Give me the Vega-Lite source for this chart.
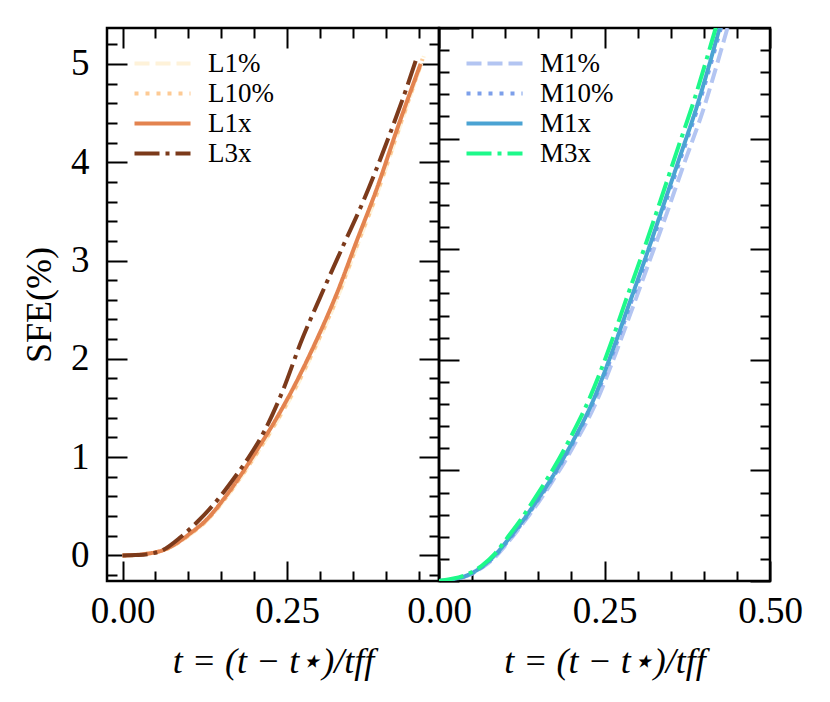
{
  "$schema": "https://vega.github.io/schema/vega-lite/v6.json",
  "background": "white",
  "padding": {"left": 20, "top": 23, "right": 5, "bottom": 5},
  "spacing": 0,
  "bounds": "flush",
  "resolve": {"scale": {"color": "independent", "strokeDash": "independent"}, "legend": {"color": "independent", "strokeDash": "independent"}},
  "config": {
    "view": {"stroke": "black", "strokeWidth": 2.5},
    "axis": {"labelFont": "Liberation Serif", "labelFontSize": 37, "titleFont": "Liberation Serif", "titleFontSize": 36, "titleFontWeight": "normal", "domain": false, "grid": false, "tickColor": "black", "tickWidth": 2, "labelColor": "black", "titleColor": "black", "labelOverlap": false, "labelFlush": false, "labelBound": false},
    "legend": {"symbolType": "M-2.8,0H2.8", "symbolSize": 400, "symbolStrokeWidth": 4, "labelFont": "Liberation Serif", "labelFontSize": 27, "labelOffset": 32, "rowPadding": 2, "padding": 0, "labelColor": "black", "labelLimit": 300}
  },
  "datasets": {
    "L": [
      {"run": "L1%", "t": 0, "sfe": 0}, {"run": "L1%", "t": 0.02, "sfe": 0.005}, {"run": "L1%", "t": 0.04, "sfe": 0.02}, {"run": "L1%", "t": 0.06, "sfe": 0.047}, {"run": "L1%", "t": 0.08, "sfe": 0.108}, {"run": "L1%", "t": 0.1, "sfe": 0.198}, {"run": "L1%", "t": 0.13, "sfe": 0.365}, {"run": "L1%", "t": 0.155, "sfe": 0.565}, {"run": "L1%", "t": 0.18, "sfe": 0.795}, {"run": "L1%", "t": 0.206, "sfe": 1.055}, {"run": "L1%", "t": 0.231, "sfe": 1.32}, {"run": "L1%", "t": 0.26, "sfe": 1.66}, {"run": "L1%", "t": 0.29, "sfe": 2.07}, {"run": "L1%", "t": 0.326, "sfe": 2.61}, {"run": "L1%", "t": 0.356, "sfe": 3.14}, {"run": "L1%", "t": 0.387, "sfe": 3.68}, {"run": "L1%", "t": 0.417, "sfe": 4.27}, {"run": "L1%", "t": 0.458, "sfe": 5.08},
      {"run": "L10%", "t": 0, "sfe": 0}, {"run": "L10%", "t": 0.02, "sfe": 0.005}, {"run": "L10%", "t": 0.04, "sfe": 0.02}, {"run": "L10%", "t": 0.06, "sfe": 0.048}, {"run": "L10%", "t": 0.08, "sfe": 0.11}, {"run": "L10%", "t": 0.1, "sfe": 0.2}, {"run": "L10%", "t": 0.13, "sfe": 0.37}, {"run": "L10%", "t": 0.155, "sfe": 0.57}, {"run": "L10%", "t": 0.18, "sfe": 0.8}, {"run": "L10%", "t": 0.206, "sfe": 1.06}, {"run": "L10%", "t": 0.231, "sfe": 1.33}, {"run": "L10%", "t": 0.26, "sfe": 1.67}, {"run": "L10%", "t": 0.29, "sfe": 2.08}, {"run": "L10%", "t": 0.326, "sfe": 2.62}, {"run": "L10%", "t": 0.356, "sfe": 3.15}, {"run": "L10%", "t": 0.387, "sfe": 3.69}, {"run": "L10%", "t": 0.417, "sfe": 4.28}, {"run": "L10%", "t": 0.456, "sfe": 5.05},
      {"run": "L1x", "t": 0, "sfe": 0}, {"run": "L1x", "t": 0.02, "sfe": 0.005}, {"run": "L1x", "t": 0.04, "sfe": 0.02}, {"run": "L1x", "t": 0.06, "sfe": 0.05}, {"run": "L1x", "t": 0.08, "sfe": 0.115}, {"run": "L1x", "t": 0.1, "sfe": 0.21}, {"run": "L1x", "t": 0.13, "sfe": 0.38}, {"run": "L1x", "t": 0.155, "sfe": 0.585}, {"run": "L1x", "t": 0.18, "sfe": 0.82}, {"run": "L1x", "t": 0.206, "sfe": 1.09}, {"run": "L1x", "t": 0.231, "sfe": 1.36}, {"run": "L1x", "t": 0.26, "sfe": 1.71}, {"run": "L1x", "t": 0.29, "sfe": 2.12}, {"run": "L1x", "t": 0.326, "sfe": 2.67}, {"run": "L1x", "t": 0.356, "sfe": 3.2}, {"run": "L1x", "t": 0.387, "sfe": 3.74}, {"run": "L1x", "t": 0.417, "sfe": 4.33}, {"run": "L1x", "t": 0.453, "sfe": 5.0},
      {"run": "L3x", "t": 0, "sfe": 0}, {"run": "L3x", "t": 0.02, "sfe": 0.004}, {"run": "L3x", "t": 0.04, "sfe": 0.015}, {"run": "L3x", "t": 0.06, "sfe": 0.05}, {"run": "L3x", "t": 0.089, "sfe": 0.19}, {"run": "L3x", "t": 0.115, "sfe": 0.35}, {"run": "L3x", "t": 0.145, "sfe": 0.57}, {"run": "L3x", "t": 0.17, "sfe": 0.79}, {"run": "L3x", "t": 0.191, "sfe": 0.99}, {"run": "L3x", "t": 0.216, "sfe": 1.27}, {"run": "L3x", "t": 0.245, "sfe": 1.7}, {"run": "L3x", "t": 0.27, "sfe": 2.15}, {"run": "L3x", "t": 0.3, "sfe": 2.62}, {"run": "L3x", "t": 0.336, "sfe": 3.16}, {"run": "L3x", "t": 0.367, "sfe": 3.62}, {"run": "L3x", "t": 0.402, "sfe": 4.21}, {"run": "L3x", "t": 0.433, "sfe": 4.78}, {"run": "L3x", "t": 0.446, "sfe": 5.04}
    ],
    "M": [
      {"run": "M1%", "t": 0, "sfe": 0}, {"run": "M1%", "t": 0.02, "sfe": 0.012}, {"run": "M1%", "t": 0.046, "sfe": 0.055}, {"run": "M1%", "t": 0.065, "sfe": 0.12}, {"run": "M1%", "t": 0.087, "sfe": 0.23}, {"run": "M1%", "t": 0.107, "sfe": 0.37}, {"run": "M1%", "t": 0.128, "sfe": 0.53}, {"run": "M1%", "t": 0.15, "sfe": 0.71}, {"run": "M1%", "t": 0.17, "sfe": 0.89}, {"run": "M1%", "t": 0.189, "sfe": 1.07}, {"run": "M1%", "t": 0.206, "sfe": 1.25}, {"run": "M1%", "t": 0.237, "sfe": 1.61}, {"run": "M1%", "t": 0.267, "sfe": 2.06}, {"run": "M1%", "t": 0.293, "sfe": 2.48}, {"run": "M1%", "t": 0.319, "sfe": 2.91}, {"run": "M1%", "t": 0.345, "sfe": 3.34}, {"run": "M1%", "t": 0.37, "sfe": 3.77}, {"run": "M1%", "t": 0.398, "sfe": 4.24}, {"run": "M1%", "t": 0.43, "sfe": 4.88}, {"run": "M1%", "t": 0.45, "sfe": 5.3},
      {"run": "M10%", "t": 0, "sfe": 0}, {"run": "M10%", "t": 0.02, "sfe": 0.014}, {"run": "M10%", "t": 0.046, "sfe": 0.058}, {"run": "M10%", "t": 0.065, "sfe": 0.125}, {"run": "M10%", "t": 0.086, "sfe": 0.235}, {"run": "M10%", "t": 0.106, "sfe": 0.375}, {"run": "M10%", "t": 0.127, "sfe": 0.535}, {"run": "M10%", "t": 0.148, "sfe": 0.715}, {"run": "M10%", "t": 0.168, "sfe": 0.895}, {"run": "M10%", "t": 0.186, "sfe": 1.075}, {"run": "M10%", "t": 0.203, "sfe": 1.255}, {"run": "M10%", "t": 0.233, "sfe": 1.615}, {"run": "M10%", "t": 0.264, "sfe": 2.08}, {"run": "M10%", "t": 0.289, "sfe": 2.5}, {"run": "M10%", "t": 0.315, "sfe": 2.94}, {"run": "M10%", "t": 0.34, "sfe": 3.38}, {"run": "M10%", "t": 0.365, "sfe": 3.82}, {"run": "M10%", "t": 0.392, "sfe": 4.3}, {"run": "M10%", "t": 0.425, "sfe": 4.98}, {"run": "M10%", "t": 0.442, "sfe": 5.35},
      {"run": "M1x", "t": 0, "sfe": 0}, {"run": "M1x", "t": 0.02, "sfe": 0.015}, {"run": "M1x", "t": 0.046, "sfe": 0.06}, {"run": "M1x", "t": 0.065, "sfe": 0.13}, {"run": "M1x", "t": 0.0856, "sfe": 0.24}, {"run": "M1x", "t": 0.105, "sfe": 0.38}, {"run": "M1x", "t": 0.126, "sfe": 0.54}, {"run": "M1x", "t": 0.147, "sfe": 0.72}, {"run": "M1x", "t": 0.167, "sfe": 0.9}, {"run": "M1x", "t": 0.185, "sfe": 1.08}, {"run": "M1x", "t": 0.202, "sfe": 1.26}, {"run": "M1x", "t": 0.232, "sfe": 1.62}, {"run": "M1x", "t": 0.262, "sfe": 2.08}, {"run": "M1x", "t": 0.287, "sfe": 2.5}, {"run": "M1x", "t": 0.313, "sfe": 2.94}, {"run": "M1x", "t": 0.338, "sfe": 3.38}, {"run": "M1x", "t": 0.363, "sfe": 3.82}, {"run": "M1x", "t": 0.39, "sfe": 4.3}, {"run": "M1x", "t": 0.423, "sfe": 4.98}, {"run": "M1x", "t": 0.44, "sfe": 5.35},
      {"run": "M3x", "t": 0, "sfe": 0}, {"run": "M3x", "t": 0.02, "sfe": 0.02}, {"run": "M3x", "t": 0.046, "sfe": 0.07}, {"run": "M3x", "t": 0.065, "sfe": 0.14}, {"run": "M3x", "t": 0.085, "sfe": 0.25}, {"run": "M3x", "t": 0.103, "sfe": 0.39}, {"run": "M3x", "t": 0.123, "sfe": 0.55}, {"run": "M3x", "t": 0.144, "sfe": 0.74}, {"run": "M3x", "t": 0.163, "sfe": 0.92}, {"run": "M3x", "t": 0.181, "sfe": 1.1}, {"run": "M3x", "t": 0.198, "sfe": 1.29}, {"run": "M3x", "t": 0.228, "sfe": 1.66}, {"run": "M3x", "t": 0.258, "sfe": 2.12}, {"run": "M3x", "t": 0.283, "sfe": 2.55}, {"run": "M3x", "t": 0.309, "sfe": 2.99}, {"run": "M3x", "t": 0.334, "sfe": 3.43}, {"run": "M3x", "t": 0.359, "sfe": 3.88}, {"run": "M3x", "t": 0.386, "sfe": 4.36}, {"run": "M3x", "t": 0.418, "sfe": 5.0}, {"run": "M3x", "t": 0.435, "sfe": 5.35}
    ]
  },
  "hconcat": [
    {
      "width": 332,
      "height": 553,
      "data": {"name": "L"},
      "layer": [
        {
          "mark": {"type": "line", "strokeWidth": 4, "clip": true, "interpolate": "monotone"},
          "encoding": {
            "x": {"field": "t", "type": "quantitative", "scale": {"domain": [-0.0236, 0.481], "nice": false, "zero": false},
              "axis": {"orient": "bottom", "values": [0, 0.05, 0.1, 0.15, 0.2, 0.25, 0.3, 0.35, 0.4, 0.45],
                "tickSize": {"condition": {"test": "abs(datum.value*4-round(datum.value*4))<0.001", "value": -20}, "value": -10},
                "labelExpr": "abs(datum.value*4-round(datum.value*4))<0.001 ? format(datum.value, '.2f') : ''",
                "labelPadding": 32, "title": "t = (t − t⋆)/tff", "titleFontStyle": "italic", "titlePadding": 5}},
            "y": {"field": "sfe", "type": "quantitative", "scale": {"domain": [-0.26, 5.365], "nice": false, "zero": false},
              "axis": {"orient": "left", "values": [-0.2, 0, 0.2, 0.4, 0.6, 0.8, 1, 1.2, 1.4, 1.6, 1.8, 2, 2.2, 2.4, 2.6, 2.8, 3, 3.2, 3.4, 3.6, 3.8, 4, 4.2, 4.4, 4.6, 4.8, 5, 5.2],
                "tickSize": {"condition": {"test": "abs(datum.value-round(datum.value))<0.001", "value": -20}, "value": -10},
                "labelExpr": "abs(datum.value-round(datum.value))<0.001 ? format(datum.value, 'd') : ''",
                "labelPadding": 38, "title": "SFE(%)", "titlePadding": 12}},
            "color": {"field": "run", "type": "nominal", "scale": {"domain": ["L1%", "L10%", "L1x", "L3x"], "range": ["#fef2d9", "#fdca94", "#e3834f", "#7c3a1b"]},
              "legend": {"title": null, "orient": "none", "legendX": 42, "legendY": 22}},
            "strokeDash": {"field": "run", "type": "nominal", "scale": {"domain": ["L1%", "L10%", "L1x", "L3x"], "range": [[15, 6], [4, 7], [1, 0], [25, 6, 4, 6]]},
              "legend": {"title": null, "orient": "none", "legendX": 42, "legendY": 22}}
          }
        },
        {
          "mark": {"type": "line", "strokeOpacity": 0, "clip": true},
          "encoding": {
            "x": {"field": "t", "type": "quantitative", "scale": {"domain": [-0.0236, 0.481], "nice": false, "zero": false},
              "axis": {"orient": "top", "values": [0, 0.05, 0.1, 0.15, 0.2, 0.25, 0.3, 0.35, 0.4, 0.45],
                "tickSize": {"condition": {"test": "abs(datum.value*4-round(datum.value*4))<0.001", "value": -20}, "value": -10},
                "labels": false, "title": null, "minExtent": 0, "maxExtent": 0}},
            "y": {"field": "sfe", "type": "quantitative", "scale": {"domain": [-0.26, 5.365], "nice": false, "zero": false},
              "axis": {"orient": "right", "values": [-0.2, 0, 0.2, 0.4, 0.6, 0.8, 1, 1.2, 1.4, 1.6, 1.8, 2, 2.2, 2.4, 2.6, 2.8, 3, 3.2, 3.4, 3.6, 3.8, 4, 4.2, 4.4, 4.6, 4.8, 5, 5.2],
                "tickSize": {"condition": {"test": "abs(datum.value-round(datum.value))<0.001", "value": -20}, "value": -10},
                "labels": false, "title": null, "minExtent": 0, "maxExtent": 0}},
            "detail": {"field": "run", "type": "nominal"}
          }
        }
      ],
      "resolve": {"axis": {"x": "independent", "y": "independent"}}
    },
    {
      "width": 331,
      "height": 553,
      "data": {"name": "M"},
      "layer": [
        {
          "mark": {"type": "line", "strokeWidth": 4, "clip": true, "interpolate": "monotone"},
          "encoding": {
            "x": {"field": "t", "type": "quantitative", "scale": {"domain": [0, 0.5], "nice": false, "zero": false},
              "axis": {"orient": "bottom", "values": [0, 0.05, 0.1, 0.15, 0.2, 0.25, 0.3, 0.35, 0.4, 0.45, 0.5],
                "tickSize": {"condition": {"test": "abs(datum.value*4-round(datum.value*4))<0.001", "value": -20}, "value": -10},
                "labelExpr": "abs(datum.value*4-round(datum.value*4))<0.001 ? format(datum.value, '.2f') : ''",
                "labelPadding": 32, "title": "t = (t − t⋆)/tff", "titleFontStyle": "italic", "titlePadding": 5}},
            "y": {"field": "sfe", "type": "quantitative", "scale": {"domain": [0, 5.0], "nice": false, "zero": false},
              "axis": {"orient": "left", "values": [0, 0.2, 0.4, 0.6, 0.8, 1, 1.2, 1.4, 1.6, 1.8, 2, 2.2, 2.4, 2.6, 2.8, 3, 3.2, 3.4, 3.6, 3.8, 4, 4.2, 4.4, 4.6, 4.8, 5],
                "tickSize": {"condition": {"test": "abs(datum.value-round(datum.value))<0.001", "value": -20}, "value": -10},
                "labels": false, "title": null, "minExtent": 0, "maxExtent": 0}},
            "color": {"field": "run", "type": "nominal", "scale": {"domain": ["M1%", "M10%", "M1x", "M3x"], "range": ["#b3c5f2", "#7d9fea", "#4ba3d3", "#1df98a"]},
              "legend": {"title": null, "orient": "none", "legendX": 42, "legendY": 22}},
            "strokeDash": {"field": "run", "type": "nominal", "scale": {"domain": ["M1%", "M10%", "M1x", "M3x"], "range": [[15, 6], [4, 7], [1, 0], [25, 6, 4, 6]]},
              "legend": {"title": null, "orient": "none", "legendX": 42, "legendY": 22}}
          }
        },
        {
          "mark": {"type": "line", "strokeOpacity": 0, "clip": true},
          "encoding": {
            "x": {"field": "t", "type": "quantitative", "scale": {"domain": [0, 0.5], "nice": false, "zero": false},
              "axis": {"orient": "top", "values": [0, 0.05, 0.1, 0.15, 0.2, 0.25, 0.3, 0.35, 0.4, 0.45, 0.5],
                "tickSize": {"condition": {"test": "abs(datum.value*4-round(datum.value*4))<0.001", "value": -20}, "value": -10},
                "labels": false, "title": null, "minExtent": 0, "maxExtent": 0}},
            "y": {"field": "sfe", "type": "quantitative", "scale": {"domain": [0, 5.0], "nice": false, "zero": false},
              "axis": {"orient": "right", "values": [0, 0.2, 0.4, 0.6, 0.8, 1, 1.2, 1.4, 1.6, 1.8, 2, 2.2, 2.4, 2.6, 2.8, 3, 3.2, 3.4, 3.6, 3.8, 4, 4.2, 4.4, 4.6, 4.8, 5],
                "tickSize": {"condition": {"test": "abs(datum.value-round(datum.value))<0.001", "value": -20}, "value": -10},
                "labels": false, "title": null, "minExtent": 0, "maxExtent": 0}},
            "detail": {"field": "run", "type": "nominal"}
          }
        }
      ],
      "resolve": {"axis": {"x": "independent", "y": "independent"}}
    }
  ]
}
